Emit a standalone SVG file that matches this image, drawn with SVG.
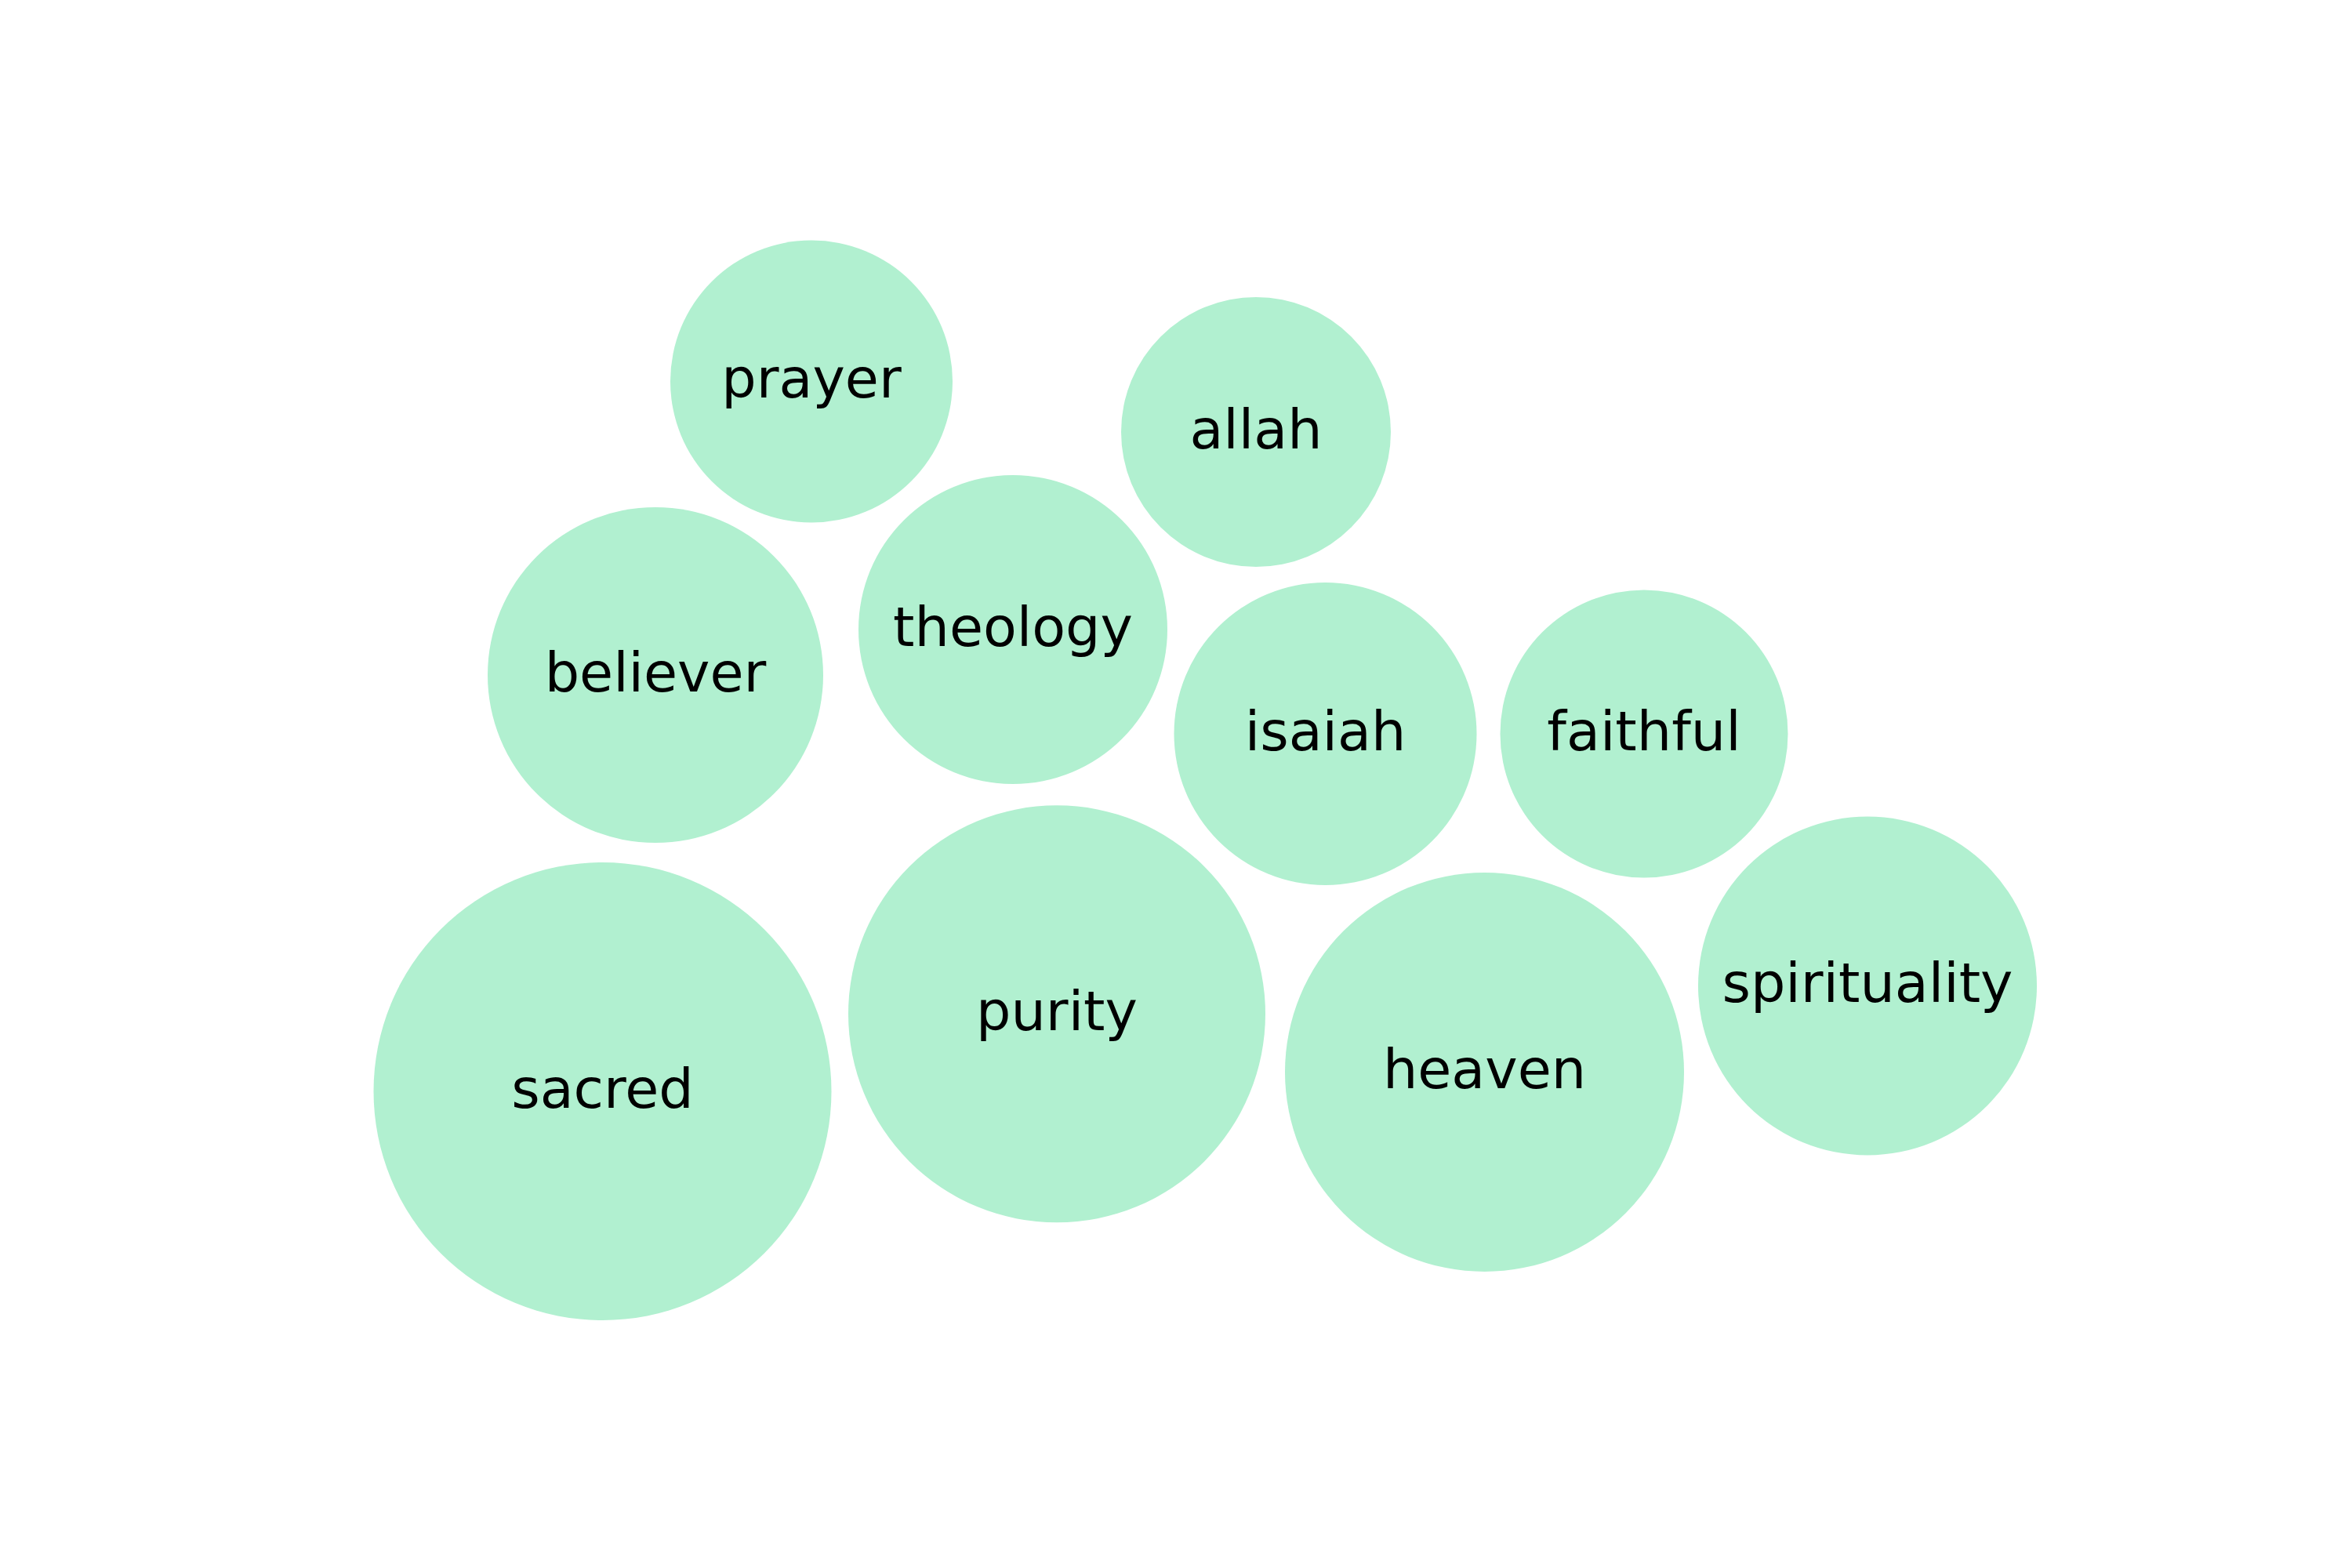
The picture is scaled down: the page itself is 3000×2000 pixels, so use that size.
<svg xmlns="http://www.w3.org/2000/svg" width="3000" height="2000" viewBox="0 0 3000 2000">
<style>
.b{fill:#b1f0d0;stroke:none}
.t{font-family:"DejaVu Sans",sans-serif;font-size:70px;fill:#000;text-anchor:middle}
</style>
<rect width="3000" height="2000" fill="#fff"/>
<g id="connectors"></g>
<g id="node-prayer"><circle class="b" cx="1035" cy="486.5" r="180"/><text class="t" x="1035" y="507">prayer</text></g>
<g id="node-allah"><circle class="b" cx="1602" cy="551" r="172"/><text class="t" x="1602" y="571.5">allah</text></g>
<g id="node-believer"><circle class="b" cx="836" cy="861" r="214"/><text class="t" x="836" y="881.5">believer</text></g>
<g id="node-theology"><circle class="b" cx="1292" cy="803" r="197"/><text class="t" x="1292" y="823.5">theology</text></g>
<g id="node-isaiah"><circle class="b" cx="1690.5" cy="936" r="193"/><text class="t" x="1690.5" y="956.5">isaiah</text></g>
<g id="node-faithful"><circle class="b" cx="2097" cy="936" r="183.5"/><text class="t" x="2097" y="956.5">faithful</text></g>
<g id="node-sacred"><circle class="b" cx="768.5" cy="1392" r="292"/><text class="t" x="768.5" y="1412.5">sacred</text></g>
<g id="node-purity"><circle class="b" cx="1348" cy="1293.3" r="266"/><text class="t" x="1348" y="1313.8">purity</text></g>
<g id="node-heaven"><circle class="b" cx="1893.5" cy="1367.5" r="254.5"/><text class="t" x="1893.5" y="1388">heaven</text></g>
<g id="node-spirituality"><circle class="b" cx="2382" cy="1257.5" r="216"/><text class="t" x="2382" y="1278">spirituality</text></g>
</svg>
